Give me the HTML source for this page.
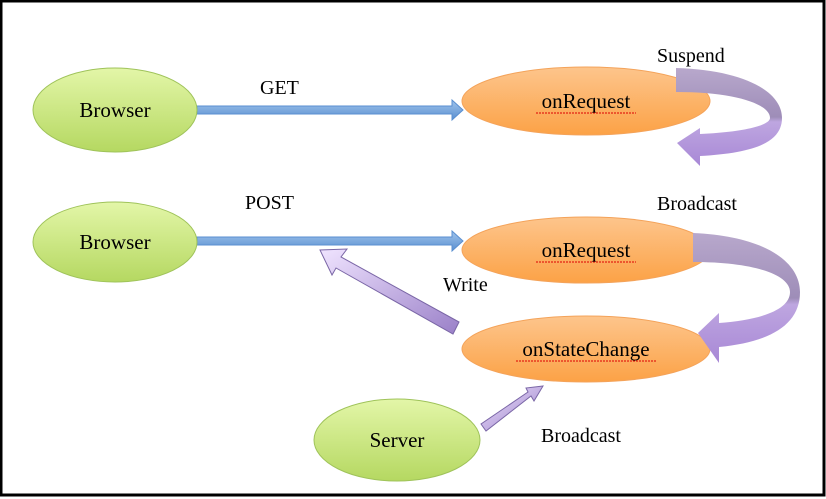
<!DOCTYPE html>
<html><head><style>
html,body{margin:0;padding:0;background:#fff;}
svg{display:block;}
text{font-family:"Liberation Serif",serif;}
</style></head><body>
<svg width="826" height="499" viewBox="0 0 826 499" xmlns="http://www.w3.org/2000/svg">
<defs>
<linearGradient id="g" x1="0" y1="0" x2="0" y2="1"><stop offset="0" stop-color="#e3f6a8"/><stop offset="1" stop-color="#b5d861"/></linearGradient>
<linearGradient id="o" x1="0" y1="0" x2="0" y2="1"><stop offset="0" stop-color="#fdc58c"/><stop offset="1" stop-color="#fca246"/></linearGradient>
<linearGradient id="b" x1="0" y1="0" x2="0" y2="1"><stop offset="0" stop-color="#a0c4ec"/><stop offset="1" stop-color="#5a8fd0"/></linearGradient>
<linearGradient id="p" x1="0" y1="0" x2="0" y2="1"><stop offset="0" stop-color="#b8a8cc"/><stop offset="0.5" stop-color="#9e8db8"/><stop offset="0.55" stop-color="#bea6e0"/><stop offset="1" stop-color="#a888d6"/></linearGradient>
<linearGradient id="pa" x1="0" y1="0" x2="1" y2="1"><stop offset="0" stop-color="#f0e4ff"/><stop offset="1" stop-color="#9a80c8"/></linearGradient>
</defs>
<rect x="0" y="0" width="826" height="499" fill="#fff"/>
<rect x="1" y="1" width="823" height="494" fill="none" stroke="#000" stroke-width="3"/>

<path d="M197,106 L452,106 L452,100 L463,110 L452,120 L452,114 L197,114 Z" fill="url(#b)" stroke="#5a8fd0" stroke-width="1"/>
<path d="M197,237 L452,237 L452,231 L463,241 L452,251 L452,245 L197,245 Z" fill="url(#b)" stroke="#5a8fd0" stroke-width="1"/>

<ellipse cx="115" cy="110" rx="82" ry="42" fill="url(#g)" stroke="#9fc35a"/>
<ellipse cx="115" cy="242" rx="82" ry="40" fill="url(#g)" stroke="#9fc35a"/>
<ellipse cx="397" cy="440" rx="83" ry="41" fill="url(#g)" stroke="#9fc35a"/>
<ellipse cx="586" cy="101" rx="124" ry="34" fill="url(#o)" stroke="#f4a35a"/>
<ellipse cx="586" cy="250" rx="124" ry="33" fill="url(#o)" stroke="#f4a35a"/>
<ellipse cx="586" cy="349" rx="124" ry="33" fill="url(#o)" stroke="#f4a35a"/>

<path d="M676,68 C745,70 782,92 782,118 C782,142 755,153 700,156 L700,166 L677,143 L700,128 L700,134 C745,132 770,125 770,118 C770,104 735,92 676,92 Z" fill="url(#p)"/>
<path d="M693,233 C765,236 800,262 800,292 C800,325 770,342 719,347 L719,363 L698,333 L719,313 L719,323 C760,320 790,310 790,292 C790,275 755,262 693,262 Z" fill="url(#p)"/>

<path d="M459,322 L453,334 L336,268 L332,275 L320,250 L347,249 L341,257 Z" fill="url(#pa)" stroke="#7a66a6" stroke-width="1"/>
<path d="M481,424 L486,431 L531,396 L534,401 L543,386 L526,388 L528,392 Z" fill="url(#pa)" stroke="#7a66a6" stroke-width="1"/>

<g font-size="21" text-anchor="middle" fill="#000">
<text x="115" y="117">Browser</text>
<text x="115" y="249">Browser</text>
<text x="397" y="447">Server</text>
<text x="586" y="108">onRequest</text>
<text x="586" y="257">onRequest</text>
<text x="586" y="356">onStateChange</text>
</g>
<g stroke="#d00" stroke-width="1" stroke-dasharray="2,1" fill="none">
<line x1="536" y1="113" x2="636" y2="113"/>
<line x1="536" y1="262" x2="636" y2="262"/>
<line x1="516" y1="361" x2="657" y2="361"/>
</g>
<g font-size="20" fill="#000">
<text x="260" y="94">GET</text>
<text x="657" y="62">Suspend</text>
<text x="245" y="209">POST</text>
<text x="657" y="210">Broadcast</text>
<text x="443" y="291">Write</text>
<text x="541" y="442">Broadcast</text>
</g>
</svg>
</body></html>
